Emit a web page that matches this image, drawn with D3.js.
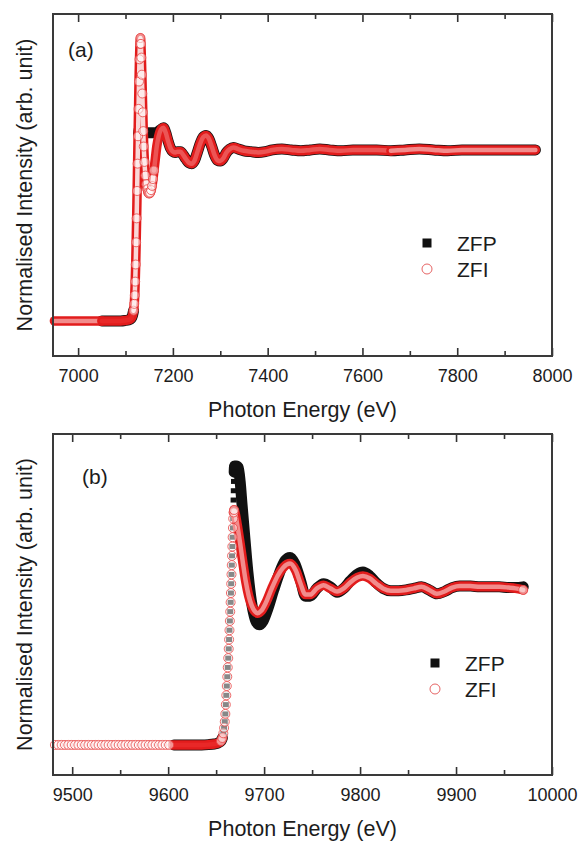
<!DOCTYPE html>
<html>
<head>
<meta charset="utf-8">
<script src="https://cdn.jsdelivr.net/npm/d3@7"></script>
<style>
  body { margin: 0; background: #fff; }
  text { font-family: "Liberation Sans", Arial, sans-serif; fill: #1c1c1c; }
</style>
</head>
<body>
<div id="chart"></div>
<script>
// panel (a) : Fe K-edge
var ticksA = [7000, 7200, 7400, 7600, 7800, 8000];
var minorA = [7100, 7300, 7500, 7700, 7900];

var zfiA = [
  [6950,0],[6975,0],[7000,0],[7025,0],[7050,0],[7070,0],[7090,0],[7100,0.003],[7106,0.006],[7110,0.01],
  [7113,0.02],[7115,0.035],[7117,0.06],[7118.5,0.1],[7119.5,0.15],[7120.5,0.23],[7121.5,0.33],[7122.5,0.46],
  [7123.5,0.6],[7124.5,0.76],[7125.5,0.92],[7126.5,1.08],[7127.5,1.24],[7128.5,1.4],[7129.5,1.53],[7130.5,1.62],
  [7131.5,1.655],[7132.5,1.62],[7133.5,1.54],[7134.5,1.44],[7135.5,1.33],[7136.5,1.22],[7137.5,1.11],[7138.5,1.02],
  [7140,0.93],[7142,0.85],[7144,0.8],[7146,0.77],[7148,0.75],[7150,0.745],[7152,0.75],[7154,0.765],[7156,0.79],
  [7158,0.83],[7160,0.88],[7163,0.95],[7166,1.02],[7170,1.08],[7175,1.12],[7180,1.13],[7185,1.1],[7190,1.05],
  [7195,1.01],[7200,0.99],[7205,0.985],[7210,0.99],[7216,0.99],[7222,0.97],[7228,0.945],[7234,0.925],[7240,0.92],
  [7246,0.94],[7252,0.99],[7258,1.04],[7264,1.075],[7270,1.085],[7276,1.065],[7282,1.02],[7288,0.97],[7294,0.94],
  [7300,0.935],[7306,0.95],[7313,0.985],[7320,1.005],[7328,1.015],[7338,1.005],[7350,0.995],[7365,0.99],[7380,0.985],
  [7395,0.99],[7410,1.0],[7430,1.005],[7450,1.0],[7470,0.995],[7490,1.0],[7510,1.005],[7530,1.0],[7555,0.995],
  [7580,1.0],[7605,1.0],[7630,1.0],[7660,0.995],[7690,1.0],[7720,1.005],[7750,1.0],[7780,0.995],[7810,1.0],
  [7840,1.0],[7870,1.0],[7900,1.0],[7930,1.0],[7965,1.0]
];

var zfpA = [
  [7050,0],[7070,0],[7090,0],[7100,0.003],[7106,0.006],[7110,0.01],[7113,0.02],[7115,0.035],[7117,0.06],
  [7118.5,0.1],[7119.5,0.15],[7120.5,0.23],[7121.5,0.33],[7122.5,0.46],[7123.5,0.6],[7124.5,0.76],[7125.5,0.9],
  [7126.5,1.02],[7127.5,1.09],[7129,1.12],[7132,1.12],[7136,1.11],[7140,1.1],[7145,1.1],[7150,1.1],[7155,1.1],
  [7160,1.1],[7165,1.1],[7170,1.11],[7175,1.12],[7180,1.13],[7185,1.1],[7190,1.05],[7195,1.01],[7200,0.99],
  [7205,0.985],[7210,0.99],[7216,0.99],[7222,0.97],[7228,0.945],[7234,0.925],[7240,0.92],[7246,0.94],[7252,0.99],
  [7258,1.04],[7264,1.075],[7270,1.085],[7276,1.065],[7282,1.02],[7288,0.97],[7294,0.94],[7300,0.935],[7306,0.95],
  [7313,0.985],[7320,1.005],[7328,1.015],[7338,1.005],[7350,0.995],[7365,0.99],[7380,0.985],[7395,0.99],[7410,1.0],
  [7430,1.005],[7450,1.0],[7470,0.995],[7490,1.0],[7510,1.005],[7530,1.0],[7555,0.995],[7580,1.0],[7605,1.0],
  [7630,1.0],[7660,0.995],[7690,1.0],[7720,1.005],[7750,1.0],[7780,0.995],[7810,1.0],[7840,1.0],[7870,1.0],
  [7900,1.0],[7930,1.0],[7965,1.0]
];

// panel (b) : Zn K-edge
var ticksB = [9500, 9600, 9700, 9800, 9900, 10000];
var minorB = [9550, 9650, 9750, 9850, 9950];

var zfiPreB = [
  [9482,0],[9485.5,0],[9489,0],[9492.5,0],[9496,0],[9499.5,0],[9503,0],[9506.5,0],[9510,0],[9513.5,0],
  [9517,0],[9520.5,0],[9524,0],[9527.5,0],[9531,0],[9534.5,0],[9538,0],[9541.5,0],[9545,0],[9548.5,0],
  [9552,0],[9555.5,0],[9559,0],[9562.5,0],[9566,0],[9569.5,0],[9573,0],[9576.5,0],[9580,0],[9583.5,0],
  [9587,0],[9590.5,0],[9594,0],[9597.5,0],[9601,0]
];

var zfiB = [
  [9604.5,0],[9615,0],[9625,0],[9635,0],[9642,0.002],[9648,0.006],[9652,0.012],[9655,0.025],[9656.5,0.045],
  [9657.5,0.075],[9658.3,0.11],[9659,0.15],[9659.6,0.2],[9660.1,0.26],[9660.6,0.32],[9661.1,0.38],[9661.6,0.44],
  [9662.1,0.5],[9662.6,0.56],[9663.1,0.62],[9663.5,0.68],[9663.9,0.74],[9664.3,0.8],[9664.7,0.86],[9665.1,0.92],
  [9665.4,0.98],[9665.7,1.04],[9666,1.1],[9666.3,1.16],[9666.6,1.22],[9666.9,1.28],[9667.2,1.34],[9667.5,1.4],
  [9667.8,1.46],[9668.2,1.5],[9668.7,1.516],[9670,1.49],[9672,1.42],[9675,1.3],[9678,1.17],[9681,1.05],[9684,0.96],
  [9687,0.9],[9690,0.865],[9693,0.85],[9697,0.865],[9702,0.92],[9708,1.01],[9714,1.09],[9720,1.145],[9727,1.17],
  [9733,1.125],[9738,1.04],[9743,0.97],[9748,0.97],[9755,1.01],[9762,1.03],[9769,1.01],[9776,0.99],[9783,1.01],
  [9790,1.05],[9797,1.08],[9803,1.09],[9810,1.075],[9817,1.04],[9824,1.01],[9832,0.995],[9840,0.995],[9848,1.0],
  [9856,1.01],[9864,1.02],[9872,1.0],[9880,0.975],[9888,0.99],[9896,1.015],[9904,1.025],[9915,1.025],[9925,1.02],
  [9935,1.02],[9945,1.02],[9955,1.015],[9962,1.01],[9970,1.0]
];

var zfpB = [
  [9606,0],[9620,0],[9635,0],[9642,0.002],[9648,0.006],[9652,0.012],[9655,0.025],[9656.5,0.045],[9657.5,0.075],
  [9658.3,0.11],[9659,0.15],[9659.6,0.2],[9660.1,0.26],[9660.6,0.32],[9661.1,0.38],[9661.6,0.44],[9662.1,0.5],
  [9662.6,0.56],[9663.1,0.62],[9663.5,0.68],[9663.9,0.74],[9664.3,0.8],[9664.7,0.86],[9665.1,0.92],[9665.4,0.98],
  [9665.7,1.04],[9666,1.1],[9666.3,1.16],[9666.6,1.22],[9666.9,1.28],[9667.2,1.34],[9667.5,1.4],[9667.8,1.46],
  [9668,1.52],[9668.2,1.58],[9668.4,1.64],[9668.6,1.7],[9668.8,1.76],[9669.2,1.8],[9671,1.8],[9673,1.79],
  [9675,1.7],[9677,1.55],[9680,1.33],[9683,1.12],[9686,0.96],[9689,0.85],[9692,0.79],[9695,0.775],[9699,0.8],
  [9704,0.88],[9710,1.0],[9716,1.11],[9722,1.19],[9727,1.21],[9732,1.17],[9738,1.06],[9743,0.96],[9748,0.96],
  [9755,1.01],[9762,1.04],[9769,1.02],[9776,0.985],[9783,1.01],[9790,1.06],[9797,1.1],[9803,1.115],[9810,1.09],
  [9817,1.045],[9824,1.01],[9832,0.995],[9840,0.995],[9848,1.0],[9856,1.01],[9864,1.02],[9872,1.0],[9880,0.975],
  [9888,0.99],[9896,1.015],[9904,1.025],[9915,1.025],[9925,1.02],[9935,1.02],[9945,1.02],[9955,1.015],[9962,1.015],
  [9970,1.02]
];

var legendNames = ["ZFP", "ZFI"];

var width = 580, height = 843;
var svg = d3.select("#chart").append("svg")
            .attr("width", width)
            .attr("height", height);

var red = "rgb(226,28,28)";
var inner = { solid: "rgb(232,40,40)", mid: "rgb(236,85,85)", ring: "rgb(242,140,140)", open: "rgb(250,215,215)" };

function drawPanel(p) {
  var x = d3.scaleLinear().domain(p.xDomain).range([53, 552]);
  var y = d3.scaleLinear().domain(p.yDomain).range([p.bottom, p.top]);
  var g = svg.append("g");

  var line = d3.line()
               .x(function(d){ return x(d[0]); })
               .y(function(d){ return y(d[1]); })
               .curve(d3.curveMonotoneX);

  function part(data, r) {
    return data.filter(function(d){ return d[0] >= r[0] && d[0] <= r[1]; });
  }
  function inRanges(data, ranges) {
    return data.filter(function(d){
      return ranges.some(function(r){ return d[0] >= r[0] && d[0] <= r[1]; });
    });
  }

  // ZFP : black squares, merged into a thick band where the points are dense
  p.zfpBands.forEach(function(r){
    g.append("path").attr("d", line(part(p.zfp, r)))
      .attr("fill", "none").attr("stroke", "#111").attr("stroke-width", 11)
      .attr("stroke-linecap", "round").attr("stroke-linejoin", "round");
  });
  g.selectAll(".zfp").data(inRanges(p.zfp, p.zfpMarks)).enter().append("rect")
    .attr("class", "zfp")
    .attr("x", function(d){ return x(d[0]) - 3; })
    .attr("y", function(d){ return y(d[1]) - 2.5; })
    .attr("width", 6).attr("height", 5)
    .attr("fill", "#111");

  // ZFI : open red circles
  p.zfiBands.forEach(function(r){
    var seg = part(p.zfi, r);
    g.append("path").attr("d", line(seg))
      .attr("fill", "none").attr("stroke", red).attr("stroke-width", 9.5)
      .attr("stroke-linecap", "round").attr("stroke-linejoin", "round");
    g.append("path").attr("d", line(seg))
      .attr("fill", "none").attr("stroke", inner[r[2]]).attr("stroke-width", 4.5)
      .attr("stroke-linecap", "round").attr("stroke-linejoin", "round");
  });
  g.selectAll(".zfi").data(p.zfiPre.concat(inRanges(p.zfi, p.zfiMarks))).enter().append("circle")
    .attr("class", "zfi")
    .attr("cx", function(d){ return x(d[0]); })
    .attr("cy", function(d){ return y(d[1]); })
    .attr("r", 4.5)
    .attr("fill", "#fff").attr("fill-opacity", 0.5)
    .attr("stroke", "rgb(232,70,70)").attr("stroke-opacity", 0.8)
    .attr("stroke-width", 1);

  // axes, ticks inward
  var bottom = g.append("g").attr("transform", "translate(0," + p.bottom + ")")
    .call(d3.axisBottom(x).tickValues(p.ticks).tickSize(-8).tickPadding(13).tickFormat(d3.format("d")));
  g.append("g").attr("transform", "translate(0," + p.bottom + ")")
    .call(d3.axisBottom(x).tickValues(p.minor).tickSize(-5).tickFormat(""));
  g.append("g").attr("transform", "translate(0," + p.top + ")")
    .call(d3.axisTop(x).tickValues(p.ticks).tickSize(-8).tickFormat(""));
  g.append("g").attr("transform", "translate(0," + p.top + ")")
    .call(d3.axisTop(x).tickValues(p.minor).tickSize(-5).tickFormat(""));
  g.selectAll(".domain").remove();
  g.selectAll(".tick line").attr("stroke", "#333").attr("stroke-width", 1.6);
  bottom.selectAll("text").style("font-size", "18px").attr("fill", "#1c1c1c")
    .style("font-family", "Liberation Sans, Arial, sans-serif");

  g.append("rect")
    .attr("x", 53).attr("y", p.top)
    .attr("width", 552 - 53).attr("height", p.bottom - p.top)
    .attr("fill", "none").attr("stroke", "#3a3a3a").attr("stroke-width", 2);

  g.append("text").attr("x", 302.5).attr("y", p.bottom + 61)
    .attr("text-anchor", "middle").style("font-size", "21.5px")
    .text("Photon Energy (eV)");
  g.append("text")
    .attr("transform", "translate(32," + ((p.top + p.bottom) / 2) + ") rotate(-90)")
    .attr("text-anchor", "middle").style("font-size", "21.5px")
    .text("Normalised Intensity (arb. unit)");
  g.append("text").attr("x", p.labelX).attr("y", p.labelY)
    .style("font-size", "21px").text(p.label);

  // legend
  var lg = g.append("g").attr("transform", "translate(" + p.legend[0] + "," + p.legend[1] + ")");
  lg.append("rect").attr("x", -4.5).attr("y", -4.5).attr("width", 9).attr("height", 9).attr("fill", "#111");
  lg.append("circle").attr("cx", 0).attr("cy", 26).attr("r", 5)
    .attr("fill", "#fff").attr("stroke", "rgb(230,100,100)").attr("stroke-width", 1);
  lg.selectAll(".lt").data(legendNames).enter().append("text")
    .attr("x", 30).attr("y", function(d, i){ return 7.5 + i * 26; })
    .style("font-size", "21px").text(function(d){ return d; });
}

drawPanel({
  xDomain: [6947, 8000], yDomain: [-0.205, 1.795], top: 14, bottom: 356,
  ticks: ticksA, minor: minorA, zfi: zfiA, zfp: zfpA, zfiPre: [],
  zfiBands: [[6950, 7050, "ring"], [7050, 7117, "solid"], [7117, 7160, "open"], [7160, 7660, "mid"], [7660, 7965, "ring"]],
  zfpBands: [[7050, 7117], [7127, 7965]],
  zfiMarks: [[7117, 7160]], zfpMarks: [[7113, 7128]],
  label: "(a)", labelX: 68, labelY: 57, legend: [427, 243]
});

drawPanel({
  xDomain: [9480, 10000], yDomain: [-0.194, 2.006], top: 434, bottom: 775,
  ticks: ticksB, minor: minorB, zfi: zfiB, zfp: zfpB, zfiPre: zfiPreB,
  zfiBands: [[9604.5, 9657, "solid"], [9668.2, 9970, "ring"]],
  zfpBands: [[9606, 9657], [9668.8, 9970]],
  zfiMarks: [[9655, 9669], [9970, 9970]], zfpMarks: [[9655, 9669]],
  label: "(b)", labelX: 82, labelY: 484, legend: [435, 663]
});
</script>
</body>
</html>
